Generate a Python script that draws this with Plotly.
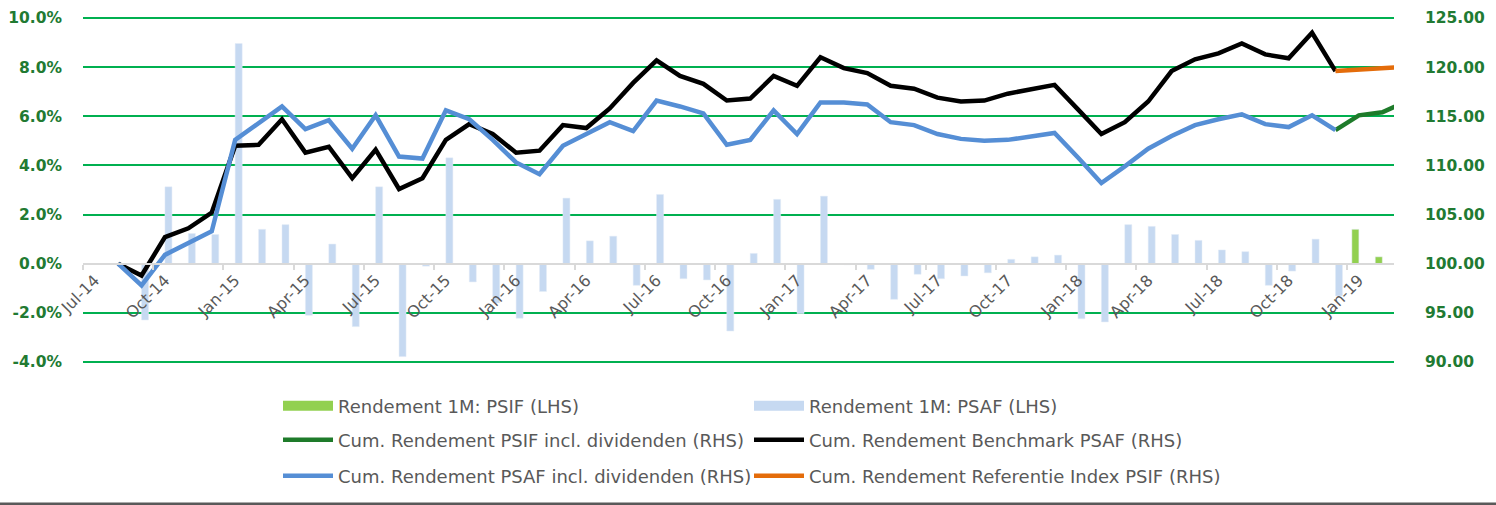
import plotly.graph_objects as go

months = ["Jul-14", "Aug-14", "Sep-14", "Oct-14", "Nov-14", "Dec-14",
          "Jan-15", "Feb-15", "Mar-15", "Apr-15", "May-15", "Jun-15",
          "Jul-15", "Aug-15", "Sep-15", "Oct-15", "Nov-15", "Dec-15",
          "Jan-16", "Feb-16", "Mar-16", "Apr-16", "May-16", "Jun-16",
          "Jul-16", "Aug-16", "Sep-16", "Oct-16", "Nov-16", "Dec-16",
          "Jan-17", "Feb-17", "Mar-17", "Apr-17", "May-17", "Jun-17",
          "Jul-17", "Aug-17", "Sep-17", "Oct-17", "Nov-17", "Dec-17",
          "Jan-18", "Feb-18", "Mar-18", "Apr-18", "May-18", "Jun-18",
          "Jul-18", "Aug-18", "Sep-18", "Oct-18", "Nov-18", "Dec-18",
          "Jan-19", "Feb-19", "Mar-19"]

# Monthly returns (LHS, %)
psif_1m = [None] * 54 + [1.40, 0.28, None]
psaf_1m = [None, None,
           -2.29, 3.13, 1.23, 1.19, 8.96, 1.40, 1.59, -2.10, 0.80, -2.56,
           3.13, -3.78, -0.10, 4.31, -0.74, -1.60, -2.22, -1.13, 2.67, 0.93,
           1.12, -0.88, 2.82, -0.61, -0.66, -2.74, 0.42, 2.62, -2.03, 2.75,
           -0.04, -0.23, -1.45, -0.43, -0.61, -0.50, -0.37, 0.18, 0.28, 0.35,
           -2.24, -2.37, 1.59, 1.52, 1.19, 0.95, 0.56, 0.49, -0.88, -0.30,
           1.00, -1.31, None, None, None]

# Cumulative returns (RHS, index)
psaf_cum = [None, 100.0,
            97.8, 100.9, 102.1, 103.3, 112.6, 114.3, 116.0, 113.7, 114.6, 111.7,
            115.1, 110.9, 110.7, 115.6, 114.7, 112.6, 110.3, 109.1, 112.0, 113.2,
            114.4, 113.5, 116.6, 116.0, 115.3, 112.1, 112.6, 115.6, 113.2, 116.4,
            116.4, 116.2, 114.4, 114.1, 113.2, 112.7, 112.5, 112.6, 113.0, 113.3,
            110.8, 108.2, 109.9, 111.7, 113.0, 114.1, 114.7, 115.2, 114.2, 113.9,
            115.1, 113.6, None, None, None]
bench_cum = [None, 100.0,
             98.8, 102.7, 103.6, 105.2, 112.0, 112.1, 114.7, 111.3, 111.9, 108.7,
             111.6, 107.6, 108.7, 112.6, 114.2, 113.2, 111.3, 111.5, 114.1, 113.8,
             115.8, 118.4, 120.7, 119.1, 118.3, 116.6, 116.8, 119.1, 118.1, 121.0,
             119.9, 119.4, 118.1, 117.8, 116.9, 116.5, 116.6, 117.3, 117.7, 118.2,
             115.7, 113.2, 114.4, 116.5, 119.6, 120.8, 121.4, 122.4, 121.3, 120.9,
             123.5, 119.6, None, None, None]
psif_cum = [None] * 53 + [113.6, 115.1, 115.4, 116.5]
ref_cum = [None] * 53 + [119.6, 119.75, 119.9, 120.05]

left_ticks = [-4, -2, 0, 2, 4, 6, 8, 10]
left_labels = ["-4.0%", "-2.0%", "0.0%", "2.0%", "4.0%", "6.0%", "8.0%", "10.0%"]
right_ticks = [90, 95, 100, 105, 110, 115, 120, 125]
right_labels = ["90.00", "95.00", "100.00", "105.00", "110.00", "115.00", "120.00", "125.00"]

names = ["Rendement 1M: PSIF (LHS)", "Rendement 1M: PSAF (LHS)",
         "Cum. Rendement PSIF incl. dividenden (RHS)", "Cum. Rendement Benchmark PSAF (RHS)",
         "Cum. Rendement PSAF incl. dividenden (RHS)", "Cum. Rendement Referentie Index PSIF (RHS)"]

C_PSIF_BAR = "#92D050"
C_PSAF_BAR = "#C6D9F1"
C_PSIF_LINE = "#1E7B2A"
C_BENCH = "#000000"
C_PSAF_LINE = "#558ED5"
C_REF = "#E46C0A"
C_AXIS_TXT = "#217A32"
C_GRID = "#00B050"

fig = go.Figure()

# bars (LHS)
fig.add_trace(go.Bar(x=months, y=psif_1m, marker_color=C_PSIF_BAR, showlegend=False,
                     name=names[0], yaxis="y"))
fig.add_trace(go.Bar(x=months, y=psaf_1m, marker_color=C_PSAF_BAR, showlegend=False,
                     name=names[1], yaxis="y"))

# lines (RHS)
LW = 4.5
fig.add_trace(go.Scatter(x=months, y=psif_cum, mode="lines", line=dict(color=C_PSIF_LINE, width=LW),
                         name=names[2], yaxis="y2", legend="legend2"))
fig.add_trace(go.Scatter(x=months, y=bench_cum, mode="lines", line=dict(color=C_BENCH, width=LW),
                         name=names[3], yaxis="y2", legend="legend2"))
fig.add_trace(go.Scatter(x=months, y=psaf_cum, mode="lines", line=dict(color=C_PSAF_LINE, width=LW),
                         name=names[4], yaxis="y2", legend="legend3"))
fig.add_trace(go.Scatter(x=months, y=ref_cum, mode="lines", line=dict(color=C_REF, width=LW),
                         name=names[5], yaxis="y2", legend="legend3"))

# legend entries for bars (rectangular swatches)
fig.add_trace(go.Scatter(x=[None], y=[None], mode="lines", line=dict(color=C_PSIF_BAR, width=13),
                         name=names[0], yaxis="y2", legend="legend"))
fig.add_trace(go.Scatter(x=[None], y=[None], mode="lines", line=dict(color=C_PSAF_BAR, width=13),
                         name=names[1], yaxis="y2", legend="legend"))

W, H = 1496, 505
PAD = 2  # extra px around the plot so the outer gridlines are drawn
ML, MR, MT, MB = 83, 102, 18 - PAD, 143 - PAD
pw, ph = W - ML - MR, H - MT - MB
unit_l = (ph - 2 * PAD) / 14.0       # px per % on left axis
ext_l = PAD / unit_l
unit_r = (ph - 2 * PAD) / 35.0       # px per unit on right axis
ext_r = PAD / unit_r
yl_range = [-4 - ext_l, 10 + ext_l]
yr_range = [90 - ext_r, 125 + ext_r]

def py(ypx):
    return (H - MB - ypx) / ph

def px(xpx):
    return (xpx - ML) / pw

legend_font = dict(family="DejaVu Sans", size=18, color="#595959")
common_leg = dict(orientation="h", xanchor="left", yanchor="middle", font=legend_font,
                  itemwidth=50, entrywidth=406, bgcolor="rgba(0,0,0,0)", itemclick=False,
                  traceorder="normal")

fig.update_layout(
    width=W, height=H,
    margin=dict(l=ML, r=MR, t=MT, b=MB, autoexpand=False),
    paper_bgcolor="white", plot_bgcolor="white",
    barmode="group", bargap=0.4, bargroupgap=0,
    xaxis=dict(type="category", categoryarray=months, categoryorder="array",
               range=[-0.5, 55.5], tickmode="linear", tick0=0, dtick=3,
               tickson="boundaries", ticks="outside", ticklen=5, tickcolor="#D9D9D9", tickwidth=1.5,
               tickangle=-45, tickfont=dict(family="DejaVu Sans", size=16, color="#595959"),
               showline=True, linecolor="#D9D9D9", linewidth=2,
               showgrid=False, zeroline=False,
               anchor="free", position=(0 - yl_range[0]) / (yl_range[1] - yl_range[0])),
    yaxis=dict(range=yl_range, tickmode="array", tickvals=left_ticks, ticktext=left_labels,
               showgrid=True, gridcolor=C_GRID, gridwidth=1.5,
               zeroline=True, zerolinecolor="#D9D9D9", zerolinewidth=2,
               ticks="", ticklabelstandoff=20,
               tickfont=dict(family="DejaVu Sans", size=15.5, color=C_AXIS_TXT, weight="bold"),
               showline=False),
    yaxis2=dict(range=yr_range, tickmode="array", tickvals=right_ticks, ticktext=right_labels,
                overlaying="y", side="right", showgrid=False, zeroline=False,
                ticks="", ticklabelstandoff=30,
                tickfont=dict(family="DejaVu Sans", size=15.5, color=C_AXIS_TXT, weight="bold"),
                showline=False),
    legend=dict(x=px(278), y=py(406), **common_leg),
    legend2=dict(x=px(278), y=py(440), **common_leg),
    legend3=dict(x=px(278), y=py(476), **common_leg),
    shapes=[dict(type="line", xref="paper", yref="paper", x0=px(0), x1=px(W), y0=py(504), y1=py(504),
                 line=dict(color="#595959", width=3))],
    showlegend=True,
)

fig.write_html("out.html", config={"displayModeBar": False},
               post_script="document.body.style.margin='0px';")
